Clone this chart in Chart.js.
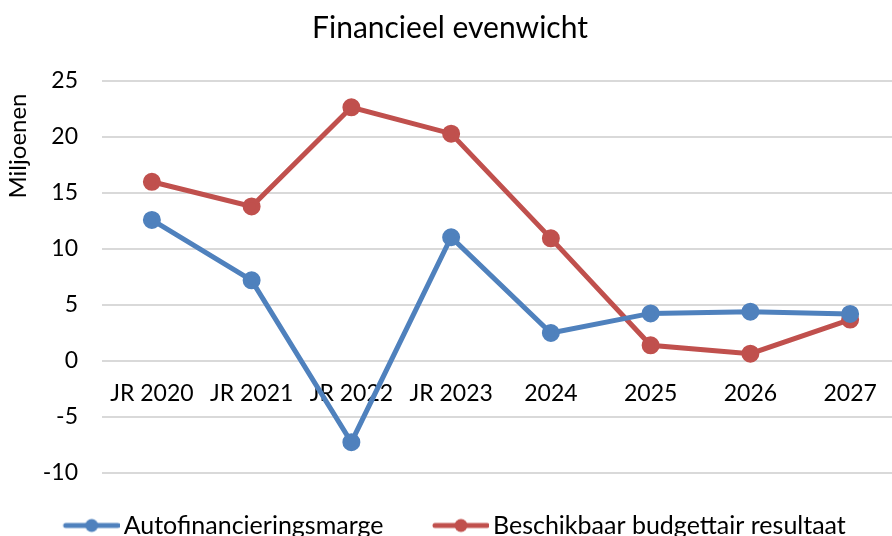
<!DOCTYPE html>
<html>
<head>
<meta charset="utf-8">
<script src="https://cdn.jsdelivr.net/npm/chart.js@4"></script>
<style>
  html, body { margin: 0; padding: 0; background: #fff; overflow: hidden; }
  #wrap { width: 900px; height: 536px; }
</style>
</head>
<body>
<div id="wrap"><canvas id="chart"></canvas></div>
<script>
// data
const categories = ['JR 2020', 'JR 2021', 'JR 2022', 'JR 2023', '2024', '2025', '2026', '2027'];
const autofinanciering = [12.6, 7.2, -7.25, 11.05, 2.5, 4.25, 4.4, 4.2];
const budgettair = [16.0, 13.8, 22.65, 20.3, 10.95, 1.4, 0.65, 3.7];
const yTicks = [-10, -5, 0, 5, 10, 15, 20, 25];
const yTitle = 'Miljoenen';

const BLUE = '#4F81BD';
const RED = '#C0504D';
const FONT = 'Lato, "Open Sans", sans-serif';

// legend marker: line with circle, like Excel (blank margin on the left for spacing)
function legendMarker(color) {
  const c = document.createElement('canvas');
  c.width = 74; c.height = 16;
  const g = c.getContext('2d');
  g.strokeStyle = color;
  g.lineWidth = 5;
  g.lineCap = 'round';
  g.beginPath(); g.moveTo(20, 8); g.lineTo(72, 8); g.stroke();
  g.fillStyle = color;
  g.beginPath(); g.arc(46, 8, 6.5, 0, Math.PI * 2); g.fill();
  return c;
}

// rotated y axis title, placed like Excel does (near the top)
const yTitlePlugin = {
  id: 'yTitle',
  afterDraw(chart) {
    const c = chart.ctx;
    c.save();
    c.translate(18, 146);
    c.rotate(-Math.PI / 2);
    c.fillStyle = '#000';
    c.font = '24px ' + FONT;
    c.textAlign = 'center';
    c.textBaseline = 'middle';
    c.fillText(yTitle, 0, 0);
    c.restore();
  }
};

const ctx = document.getElementById('chart').getContext('2d');
new Chart(ctx, {
  type: 'line',
  data: {
    labels: categories,
    datasets: [
      {
        label: 'Autofinancieringsmarge',
        data: autofinanciering,
        borderColor: BLUE,
        backgroundColor: BLUE,
        borderWidth: 5,
        pointRadius: 6.5,
        pointHoverRadius: 6.5,
        tension: 0
      },
      {
        label: 'Beschikbaar budgettair resultaat',
        data: budgettair,
        borderColor: RED,
        backgroundColor: RED,
        borderWidth: 5,
        pointRadius: 6.5,
        pointHoverRadius: 6.5,
        tension: 0
      }
    ]
  },
  plugins: [yTitlePlugin],
  options: {
    responsive: true,
    maintainAspectRatio: false,
    animation: false,
    layout: { autoPadding: false, padding: { left: 0, right: 0, top: 0, bottom: -12 } },
    plugins: {
      title: {
        display: true,
        text: 'Financieel evenwicht',
        color: '#000',
        font: { family: FONT, size: 30, weight: 'normal' },
        padding: { top: 10, bottom: 35 }
      },
      legend: {
        position: 'bottom',
        labels: {
          color: '#000',
          font: { family: FONT, size: 25 },
          usePointStyle: true,
          pointStyleWidth: 57,
          padding: 40,
          generateLabels: (chart) => chart.data.datasets.map((ds, i) => ({
            text: ds.label,
            pointStyle: legendMarker(ds.borderColor),
            fillStyle: ds.borderColor,
            strokeStyle: ds.borderColor,
            lineWidth: 0,
            hidden: false,
            datasetIndex: i
          }))
        }
      },
      tooltip: { enabled: false }
    },
    scales: {
      x: {
        position: { y: 0 },
        offset: true,
        grid: { display: false, drawTicks: false },
        border: { display: false },
        ticks: {
          color: '#000',
          font: { family: FONT, size: 23 },
          padding: 19,
          maxRotation: 0,
          autoSkip: false
        },
        afterFit: (scale) => {
          scale.height = 0;
          scale.paddingLeft = 0;
          scale.paddingRight = 0;
        }
      },
      y: {
        min: -10,
        max: 25,
        afterBuildTicks: (scale) => { scale.ticks = yTicks.map(v => ({ value: v })); },
        grid: { color: '#d9d9d9', lineWidth: 2, drawTicks: false },
        border: { display: false },
        ticks: {
          color: '#000',
          font: { family: FONT, size: 23 },
          padding: 24
        },
        afterFit: (scale) => { scale.width = 102; }
      }
    }
  }
});
</script>
</body>
</html>
